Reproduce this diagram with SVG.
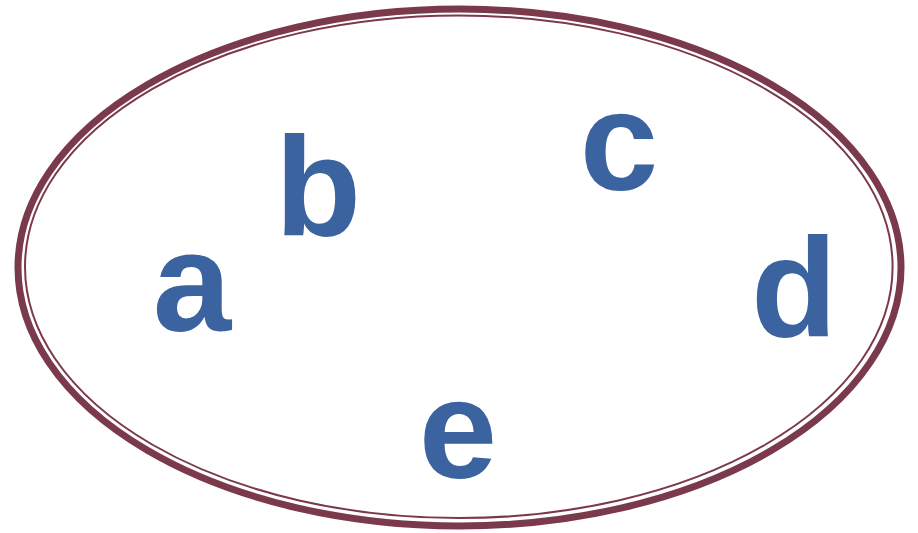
<svg xmlns="http://www.w3.org/2000/svg" width="918" height="533" viewBox="0 0 918 533">
<style>
.lbl{font-family:"Liberation Sans",Arial,sans-serif;font-weight:bold;font-size:141px;fill:#3A63A0;text-anchor:middle}
.outer{fill:none;stroke:#7B3A4B;stroke-width:7}
.inner{fill:none;stroke:#7B3A4B;stroke-width:2}
</style>
<rect width="918" height="533" fill="#fff"/>
<g id="border">
<ellipse class="outer" cx="459.5" cy="267.5" rx="441.5" ry="258.5"/>
<ellipse class="inner" cx="458.8" cy="266.8" rx="433.8" ry="251.3"/>
</g>
<g id="connectors"/>
<g id="node-a"><text class="lbl" x="192" y="331">a</text></g>
<g id="node-b"><text class="lbl" x="318" y="235">b</text></g>
<g id="node-c"><text class="lbl" x="619" y="190">c</text></g>
<g id="node-d"><text class="lbl" x="794" y="336">d</text></g>
<g id="node-e"><text class="lbl" x="458" y="478">e</text></g>
</svg>
